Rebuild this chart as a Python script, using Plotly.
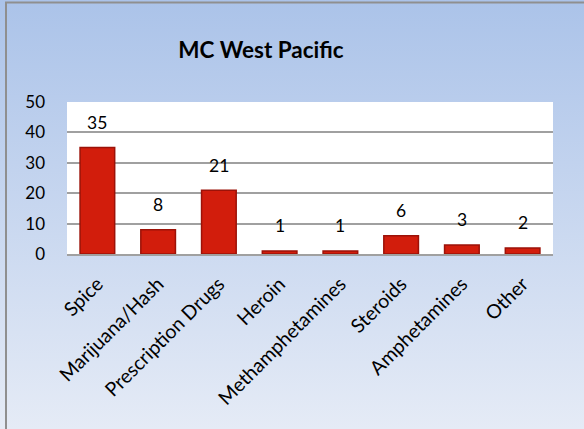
import plotly.graph_objects as go
import base64

categories = ["Spice", "Marijuana/Hash", "Prescription Drugs", "Heroin",
              "Methamphetamines", "Steroids", "Amphetamines", "Other"]
values = [35, 8, 21, 1, 1, 6, 3, 2]
y_ticks = [0, 10, 20, 30, 40, 50]
title_text = "MC West Pacific"

W, H = 584, 429
ml, mr, mt, mb = 67, 31, 102, 175
pw, ph = W - ml - mr, H - mt - mb

svg = ('<svg xmlns="http://www.w3.org/2000/svg" width="100" height="100" preserveAspectRatio="none">'
       '<defs><linearGradient id="g" x1="0" y1="0" x2="0" y2="1">'
       '<stop offset="0" stop-color="#abc3e9"/><stop offset="1" stop-color="#e5ebf6"/>'
       '</linearGradient></defs><rect width="100" height="100" fill="url(#g)"/></svg>')
src = "data:image/svg+xml;base64," + base64.b64encode(svg.encode()).decode()

FONT = "Lato"

fig = go.Figure()
fig.add_trace(go.Bar(
    x=categories, y=values, width=0.57,
    marker=dict(color="#d21d0c", line=dict(color="#9c1208", width=1.5)),
    hoverinfo="skip",
))

for c, v in zip(categories, values):
    fig.add_annotation(x=c, y=v, text=str(v), showarrow=False, yanchor="middle",
                       yshift=25, font=dict(family=FONT, size=17.5, color="black"))

fig.update_layout(
    width=W, height=H,
    margin=dict(l=ml, r=mr, t=mt, b=mb, autoexpand=False),
    paper_bgcolor="#c8d6ee",
    plot_bgcolor="white",
    showlegend=False,
    title=dict(text="<b>" + title_text + "</b>", x=261 / W, xref="container", xanchor="center",
               y=1 - 50 / H, yref="container", yanchor="middle",
               font=dict(family=FONT, size=22.5, color="black")),
    images=[dict(source=src, xref="paper", yref="paper", x=-ml / pw, y=1 + mt / ph,
                 sizex=W / pw, sizey=H / ph, xanchor="left", yanchor="top",
                 sizing="stretch", layer="below")],
    shapes=[
        dict(type="rect", xref="x domain", yref="y domain", x0=0, x1=1, y0=0, y1=1,
             fillcolor="white", line=dict(width=0), layer="below"),
        dict(type="rect", xref="paper", yref="paper",
             x0=(6 - ml) / pw, x1=(W + 10 - ml) / pw,
             y0=-(mb + 10) / ph, y1=1 + (mt - 2.5) / ph,
             line=dict(color="#8f8f8f", width=2), fillcolor="rgba(0,0,0,0)"),
    ],
)
fig.update_yaxes(range=[0, 50], tickvals=y_ticks, showgrid=True, gridcolor="#a0a0a0",
                 gridwidth=1.8, zeroline=False, showline=False, ticks="",
                 ticklabelstandoff=21,
                 tickfont=dict(family=FONT, size=17, color="black"))
fig.update_xaxes(tickangle=-45, showgrid=False, showline=True, linecolor="#a0a0a0",
                 linewidth=1.8, ticks="", ticklabelstandoff=9,
                 tickfont=dict(family=FONT, size=19.5, color="black"))

fig.write_html("out.html", config={"displayModeBar": False},
               post_script="document.body.style.margin='0';")
